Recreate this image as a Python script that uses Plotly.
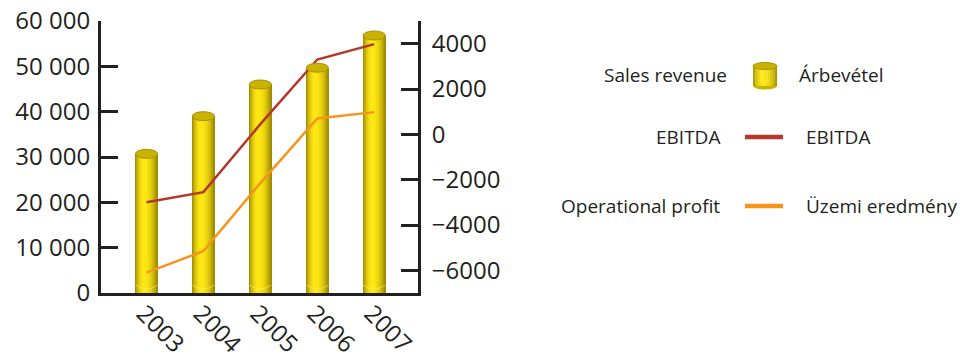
import math
import plotly.graph_objects as go

years = ["2003", "2004", "2005", "2006", "2007"]
sales_revenue = [30700, 39000, 46000, 49700, 56800]
ebitda = [-3000, -2550, 450, 3300, 3980]
operational_profit = [-6100, -5150, -2150, 700, 980]

left_ticks = [0, 10000, 20000, 30000, 40000, 50000, 60000]
left_tick_text = ["0", "10 000", "20 000", "30 000", "40 000", "50 000", "60 000"]
right_ticks = [-7000, -6000, -4000, -2000, 0, 2000, 4000, 5000]
right_tick_text = ["", "\u22126000", "\u22124000", "\u22122000", "0", "2000", "4000", ""]

legend_en = ["Sales revenue", "EBITDA", "Operational profit"]
legend_hu = ["Árbevétel", "EBITDA", "Üzemi eredmény"]

TXT = "#231F20"
RED = "#B5372B"
ORANGE = "#F7941E"
FONT = "Open Sans"
W, H = 960.0, 358.0

fig = go.Figure()

edge = (150, 132, 0)
peak = (255, 232, 20)


def shade(t):
    if t < 0.42:
        f = math.sin(math.pi / 2 * (t / 0.42))
    else:
        f = math.sin(math.pi / 2 * ((1 - t) / 0.58))
    f = f ** 0.8
    return "rgb(%d,%d,%d)" % tuple(int(edge[i] + (peak[i] - edge[i]) * f) for i in range(3))


# cylinder bars built from thin vertical strips with shading
bar_w = 0.39
n_strips = 22
for k in range(n_strips):
    t = (k + 0.5) / n_strips
    fig.add_trace(go.Bar(
        x=years, y=sales_revenue,
        width=bar_w / n_strips * 1.05,
        offset=-bar_w / 2 + k * bar_w / n_strips,
        marker=dict(color=shade(t), line=dict(width=0)),
        showlegend=False, name="Árbevétel",
    ))

fig.add_trace(go.Scatter(x=years, y=ebitda, yaxis="y2", mode="lines",
                         line=dict(color=RED, width=2.5), name="EBITDA", showlegend=False))
fig.add_trace(go.Scatter(x=years, y=operational_profit, yaxis="y2", mode="lines",
                         line=dict(color=ORANGE, width=2.5), name="Üzemi eredmény", showlegend=False))

shapes = []
for i, v in enumerate(sales_revenue):
    shapes.append(dict(type="circle", xref="x", yref="y", ysizemode="pixel", yanchor=v,
                       x0=i - bar_w / 2, x1=i + bar_w / 2, y0=-4.5, y1=4.5,
                       fillcolor="#C9B200", line=dict(color="#A89300", width=1), layer="above"))
    shapes.append(dict(type="path", xref="x", yref="y", ysizemode="pixel", yanchor=0,
                       path="M %f,%f Q %f,%f %f,%f" % (i - bar_w / 2, 8, i, 0, i + bar_w / 2, 8),
                       line=dict(color="rgba(255,240,120,0.6)", width=1), layer="above"))


def py(y):
    return 1 - y / H


row_y = [75, 137, 206]
annotations = []
for r, (en, hu) in enumerate(zip(legend_en, legend_hu)):
    annotations.append(dict(xref="paper", yref="paper", x=(729 if r == 0 else 722) / W, y=py(row_y[r]),
                            text=en, showarrow=False, xanchor="right", yanchor="middle",
                            font=dict(family=FONT, size=19, color=TXT)))
    annotations.append(dict(xref="paper", yref="paper", x=(797 if r == 0 else 804) / W, y=py(row_y[r]),
                            text=hu, showarrow=False, xanchor="left", yanchor="middle",
                            font=dict(family=FONT, size=19, color=TXT)))

paper_shapes = []
for r, col in [(1, RED), (2, ORANGE)]:
    paper_shapes.append(dict(type="line", xref="paper", yref="paper",
                             x0=745 / W, x1=783 / W, y0=py(row_y[r]), y1=py(row_y[r]),
                             line=dict(color=col, width=4.5)))

cx0, cx1 = 753 / W, 777 / W
ytop, ybot = 66, 86
n = 10
paper_shapes.append(dict(type="circle", xref="paper", yref="paper", x0=cx0, x1=cx1,
                         y0=py(ybot + 3.5), y1=py(ybot - 3.5), fillcolor="rgb(200,180,0)",
                         line=dict(width=0)))
for k in range(n):
    t = (k + 0.5) / n
    paper_shapes.append(dict(type="rect", xref="paper", yref="paper",
                             x0=cx0 + (cx1 - cx0) * k / n, x1=cx0 + (cx1 - cx0) * (k + 1.05) / n,
                             y0=py(ybot), y1=py(ytop), fillcolor=shade(t),
                             line=dict(width=0)))
paper_shapes.append(dict(type="circle", xref="paper", yref="paper", x0=cx0, x1=cx1,
                         y0=py(ytop + 3.5), y1=py(ytop - 3.5), fillcolor="#C9B200",
                         line=dict(color="#A89300", width=1)))

fig.update_layout(
    width=960, height=358,
    margin=dict(l=0, r=0, t=0, b=0),
    paper_bgcolor="white", plot_bgcolor="white",
    barmode="overlay", bargap=0,
    showlegend=False,
    font=dict(family=FONT, color=TXT),
    xaxis=dict(domain=[101 / W, 418 / W], type="category", range=[-0.8, 4.77],
               showline=True, linewidth=3, linecolor=TXT, ticks="",
               tickangle=45, tickfont=dict(size=24, color=TXT, family=FONT),
               ticklabelstandoff=-6, ticklabelshift=-3,
               showgrid=False, zeroline=False, automargin=False),
    yaxis=dict(domain=[1 - 293 / H, 1 - 21 / H], range=[0, 60000],
               tickvals=left_ticks, ticktext=left_tick_text,
               ticks="inside", ticklen=17, tickwidth=3, tickcolor=TXT,
               showline=True, linewidth=3, linecolor=TXT,
               tickfont=dict(size=24, color=TXT, family=FONT),
               ticklabelstandoff=3, automargin=False,
               showgrid=False, zeroline=False),
    yaxis2=dict(overlaying="y", side="right", range=[-7000, 5000],
                tickvals=right_ticks, ticktext=right_tick_text,
                ticks="inside", ticklen=17, tickwidth=3, tickcolor=TXT,
                showline=True, linewidth=3, linecolor=TXT,
                tickfont=dict(size=24, color=TXT, family=FONT),
                ticklabelstandoff=6, automargin=False,
                showgrid=False, zeroline=False),
    annotations=annotations,
    shapes=shapes + paper_shapes,
)

fig.write_html("out.html")
